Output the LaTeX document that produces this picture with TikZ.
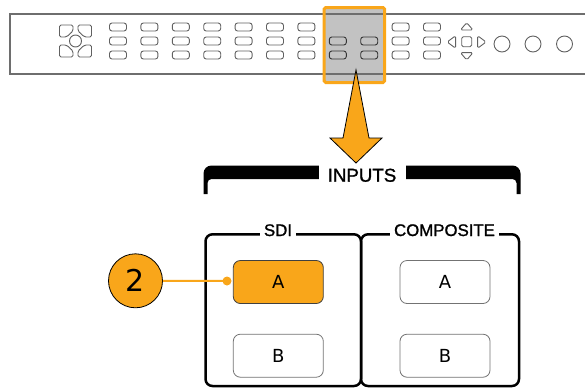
\documentclass[tikz,border=0pt]{standalone}
\usepackage{fontspec}
\setmainfont{Liberation Sans}
\newfontfamily\lblfont[FakeBold=1.2]{Liberation Sans}
\newfontfamily\dejavu{DejaVu Sans}
\definecolor{tekorange}{HTML}{F9A61A}
\definecolor{hlgray}{HTML}{C2C2C2}
\definecolor{panelline}{HTML}{6E6E6E}
\begin{document}
\begin{tikzpicture}[x=1pt,y=-1pt,
  pbtn/.style={draw=black!62, line width=0.9pt, rounded corners=2.5pt, minimum width=17pt, minimum height=8pt, inner sep=0pt},
  pbtnhl/.style={pbtn, draw=black!80, fill=hlgray},
  pshape/.style={draw=black!62, line width=0.9pt, rounded corners=1.6pt, line join=round},
  grpbox/.style={line width=2.5pt, rounded corners=7pt},
  grplabel/.style={fill=white, inner xsep=4pt, inner ysep=1pt, font=\lblfont\fontsize{16.8}{18}\selectfont, anchor=base},
  selbtn/.style={draw=black!75, line width=0.8pt, rounded corners=7pt, minimum width=90pt, minimum height=43pt, inner sep=0pt, font=\dejavu\fontsize{18}{20}\selectfont},
  selbtnon/.style={selbtn, fill=tekorange},
  selbtnoff/.style={selbtn, draw=black!55, fill=white}
]
\useasboundingbox (0,0) rectangle (585,389);

% highlight background
\fill[hlgray] (324.2,7.5) rectangle (384.5,82.5);

% front panel outline
\draw[panelline, line width=1.2pt] (585,14) -- (10,14) -- (10,74) -- (585,74);

% left cluster
\foreach \sx/\sy/\nm in {1/1/br,-1/1/bl,1/-1/tr,-1/-1/tl} {
  \begin{scope}[shift={(75.5,41)}, xscale=\sx, yscale=\sy]
    \draw[pshape] (2.5,10) -- (2.5,16) -- (16,16) -- (16,4) -- (9,4) -- cycle;
  \end{scope}
}
\node[draw=black!62, line width=0.9pt, circle, minimum size=12pt, inner sep=0pt] (navc) at (75.5,41) {};

% panel buttons
\foreach \i in {0,...,6,9,10} {
  \foreach \r/\yy in {0/27,1/41,2/55} {
    \node[pbtn] (pb-\i-\r) at ({118+31.4*\i},\yy) {};
  }
}
\foreach \i in {7,8} {
  \foreach \r/\yy in {1/41,2/55} {
    \node[pbtnhl] (pb-\i-\r) at ({118+31.4*\i},\yy) {};
  }
}

% arrow pad
\draw[pshape] (461.7,36.7) rectangle (471.7,46.7);
\draw[pshape] (466.7,22.7) -- (473,30) -- (460.4,30) -- cycle;
\draw[pshape] (466.7,60) -- (460.4,52.6) -- (473,52.6) -- cycle;
\draw[pshape] (447.2,42) -- (455.6,35.7) -- (455.6,48.3) -- cycle;
\draw[pshape] (486,42) -- (477.6,35.7) -- (477.6,48.3) -- cycle;

% round knobs
\foreach \cx/\k in {502/1,533/2,564.5/3} {
  \node[draw=black!62, line width=0.9pt, circle, minimum size=16pt, inner sep=0pt] (knob\k) at (\cx,44) {};
}

% highlight border
\draw[tekorange, line width=3pt, rounded corners=1.5pt] (324.2,7.5) rectangle (384.5,82.5);

% INPUTS bracket
\fill[black] (203.5,194) -- (203.5,173.5) arc(180:270:8) -- (512.5,165.5) arc(270:360:8)
  -- (520.5,194) -- (516.5,194) -- (516.5,183) arc(0:-90:4) -- (211.5,179) arc(270:180:4)
  -- (207.5,194) -- cycle;
\fill[white] (319,160) rectangle (406,186);
\node[anchor=base, inner sep=0pt, font=\lblfont\fontsize{18.7}{20}\selectfont] (inputs) at (362,181.7) {INPUTS};

% big arrow
\draw[fill=tekorange, line width=0.8pt, line join=miter] (356,70) -- (369,138) -- (382,138) -- (356,163) -- (330,138) -- (343,138) -- cycle;

% group boxes
\draw[grpbox] (205.5,234.3) rectangle (361,386);
\draw[grpbox] (361,234.3) rectangle (519,386);
\node[grplabel] (sdi) at (278,236) {SDI};
\node[grplabel] (comp) at (444.5,236) {COMPOSITE};

% selector buttons
\node[selbtnon] (sdiA) at (278.3,282) {A};
\node[selbtnoff] (sdiB) at (278.3,355.7) {B};
\node[selbtnoff] (compA) at (445,282) {A};
\node[selbtnoff] (compB) at (445,355.7) {B};

% callout
\coordinate (dot) at (227,281);
\node[circle, draw=black, line width=0.8pt, fill=tekorange, minimum size=54pt, inner sep=0pt, font=\dejavu\fontsize{30}{32}\selectfont] (call2) at (135.5,280.8) {2};
\draw[tekorange, line width=2pt] (call2.east) -- (dot);
\fill[tekorange] (dot) circle (4.5);
\end{tikzpicture}
\end{document}
